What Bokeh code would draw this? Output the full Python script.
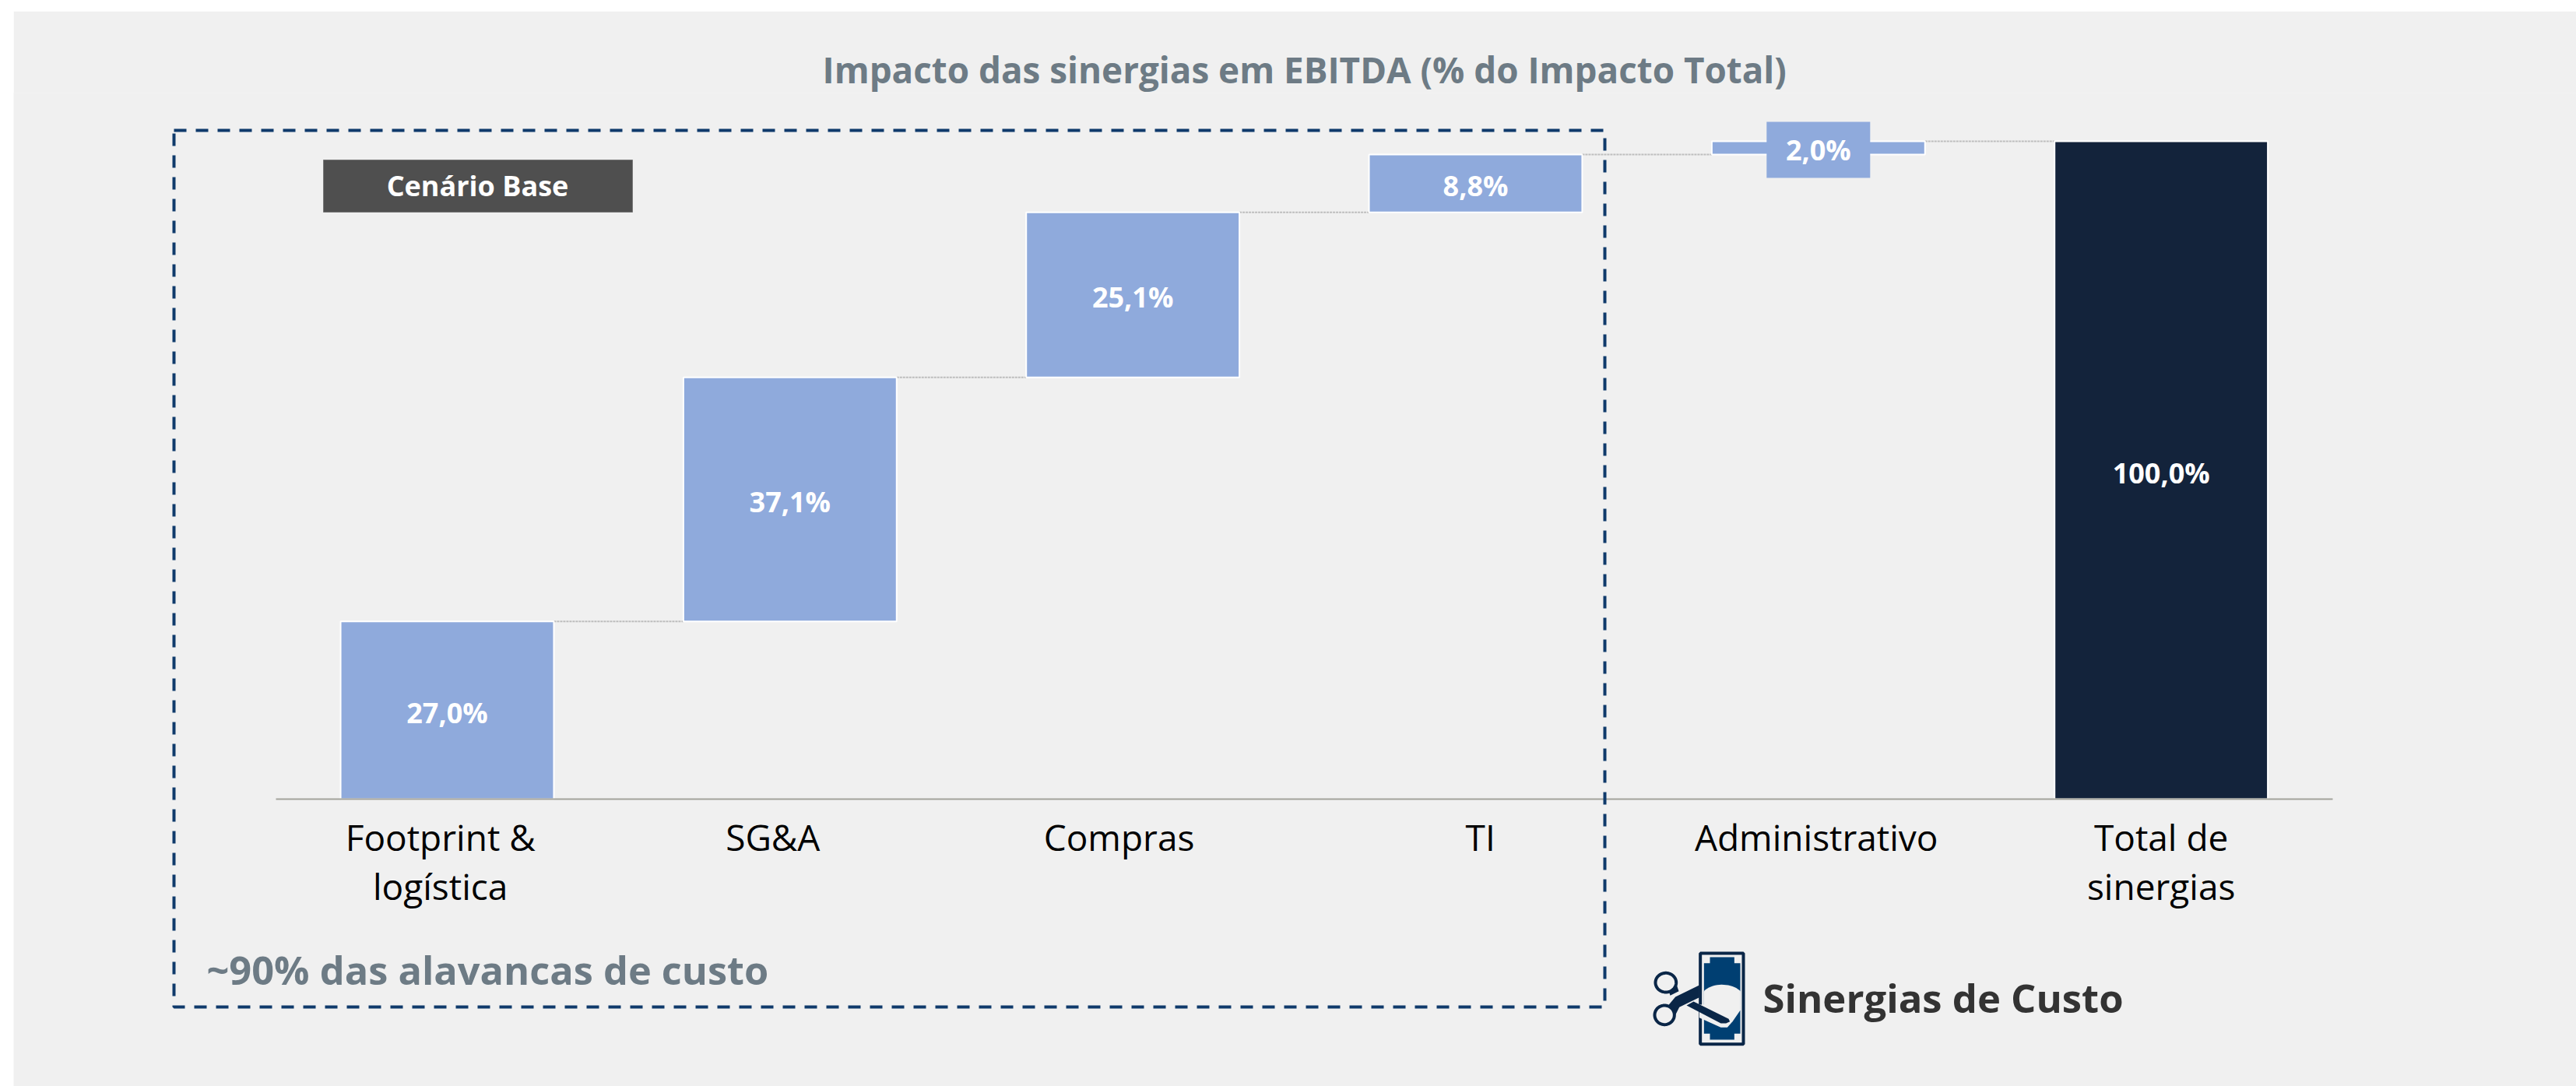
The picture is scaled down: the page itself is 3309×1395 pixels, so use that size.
import numpy as np
from bokeh.plotting import figure
from bokeh.embed import file_html
from bokeh.resources import INLINE
from bokeh.core.properties import value
from bokeh.models import (ColumnDataSource, FixedTicker, Label, BoxAnnotation, PolyAnnotation, Range1d)

# ---- data -----------------------------------------------------------------
categories = ["Footprint &\nlogística", "SG&A", "Compras", "TI", "Administrativo", "Total de\nsinergias"]
increments = [27.0, 37.1, 25.1, 8.8, 2.0]
total = [100.0]
value_labels = ["27,0%", "37,1%", "25,1%", "8,8%", "2,0%", "100,0%"]
chart_title = "Impacto das sinergias em EBITDA (% do Impacto Total)"
scenario_text = "Cenário Base"
note_text = "~90% das alavancas de custo"
brand_text = "Sinergias de Custo"

# ---- styling --------------------------------------------------------------
FONT = "Open Sans"
BLUE, NAVY, GREY_TEXT = "#8faadc", "#13233b", "#6d7b85"
PANEL, DASH = "#f0f0f0", "#0f3a6b"
OX, OY = 17, 14            # where the figure sits in the page
WIN_W, WIN_H = 3309, 1395
label_shift = [-0.02, -0.05, -0.04, 0.014, -0.006, 0.0]   # category labels are hand placed
FRAME_TOP = 119

tops = list(np.cumsum(increments)) + total
bottoms = [t - v for t, v in zip(tops, increments)] + [0.0]
xs = list(range(len(categories)))
colors = [BLUE] * len(increments) + [NAVY]
BAR_W = 0.622

PX_X, PX_Y = 440.33, 8.45   # pixels per category, pixels per percentage point
p = figure(width=WIN_W - OX, height=WIN_H - OY, margin=(OY, 0, 0, OX), output_backend="svg", toolbar_location=None,
           x_range=Range1d((OX - 574) / PX_X, (WIN_W - 574) / PX_X),
           y_range=Range1d((1026 - WIN_H) / PX_Y, (1026 - FRAME_TOP) / PX_Y),
           min_border_left=0, min_border_right=0, min_border_top=FRAME_TOP - OY, min_border_bottom=0,
           background_fill_color=PANEL, border_fill_color=PANEL, outline_line_color=None)
p.grid.visible = False
p.yaxis.visible = False

p.title.text = chart_title
p.title.align = "left"
p.title.offset = 1056 - OX
p.title.text_font = FONT
p.title.text_font_size = "45.8px"
p.title.text_font_style = "bold"
p.title.text_color = GREY_TEXT
p.title.standoff = 0

ax = p.xaxis[0]
ax.fixed_location = 0
ax.bounds = (-0.5, 5.5)
ax.ticker = FixedTicker(ticks=[x + s for x, s in zip(xs, label_shift)])
ax.major_label_overrides = {x + s: c for x, s, c in zip(xs, label_shift, categories)}
ax.major_tick_line_color = None
ax.minor_tick_line_color = None
ax.axis_line_color = "#a3a39b"
ax.axis_line_width = 2
ax.major_label_text_font = FONT
ax.major_label_text_font_size = "46px"
ax.major_label_text_color = "#000000"
ax.major_label_text_line_height = 1.02
ax.major_label_standoff = 11

# connectors
p.segment(x0=[x + BAR_W / 2 for x in xs[:-1]], x1=[x + 1 - BAR_W / 2 for x in xs[:-1]],
          y0=tops[:-1], y1=tops[:-1], line_color="#bdbdbd", line_width=2, line_dash="3 1")
# bars
src = ColumnDataSource(dict(x=xs, top=tops, bottom=bottoms, color=colors))
p.vbar(x="x", top="top", bottom="bottom", width=BAR_W, fill_color="color", line_color="#ffffff", line_width=2, source=src)
# backing box of the small label
p.rect(x=[xs[4]], y=[tops[4] - increments[4] * 0.65], width=133, height=72, width_units="screen", height_units="screen",
       fill_color=BLUE, line_color=None)
# value labels
label_y = [(t + b) / 2 for t, b in zip(tops, bottoms)]
p.text(x=xs, y=label_y, text=value_labels, text_color="#ffffff", text_font=value(FONT), text_font_style="bold",
       text_font_size="36px", text_align="center", text_baseline="middle", y_offset=3)

# annotations in page pixels
def lab(text, x, y, size, color, style="bold", align="left"):
    p.add_layout(Label(x=x - OX, y=y - OY, x_units="canvas", y_units="canvas", text=text, text_font=FONT,
                       text_font_size=size, text_font_style=style, text_color=color, text_align=align,
                       text_baseline="middle"))

def box(l, r, t, b, **kw):
    p.add_layout(BoxAnnotation(left=l - OX, right=r - OX, top=t - OY, bottom=b - OY, left_units="canvas",
                               right_units="canvas", top_units="canvas", bottom_units="canvas", **kw))

box(223, 2061, 167, 1293, fill_color=None, fill_alpha=0, line_color=DASH, line_alpha=1, line_width=4, line_dash="16 12")
box(415, 812, 205, 272, fill_color="#4f4f4f", fill_alpha=1, line_color="#777777", line_alpha=1, line_width=1)
lab(scenario_text, 613, 238, "36px", "#ffffff", align="center")
lab(note_text, 265, 1245, "50.5px", GREY_TEXT)
lab(brand_text, 2264, 1281, "50.8px", "#333333")

# logo: a banknote being cut by scissors
def logo(xs_, ys_, color=None, fill=None, width=3):
    p.add_layout(PolyAnnotation(xs=[2110 + x / 3 - OX for x in xs_], ys=[1210 + y / 3 - OY for y in ys_],
                                xs_units="canvas", ys_units="canvas",
                                fill_color=fill, fill_alpha=1 if fill else 0,
                                line_color=color, line_alpha=1 if color else 0, line_width=width))

LOGO_D, LOGO_B = "#0a2647", "#003f72"
logo([221, 387, 387, 221], [42, 42, 392, 392], color=LOGO_D, width=4)
logo([258, 352, 352, 375, 375, 352, 352, 258, 258, 235, 235, 258],
     [57, 57, 80, 80, 352, 352, 375, 375, 352, 352, 80, 80], fill=LOGO_B)
t = np.linspace(0, 2 * np.pi, 60)
logo(list(np.clip(305 + 82 * np.cos(t), 235, 376)), list(215 + 52 * np.sin(t)), fill=PANEL)
logo([217, 300, 325, 345, 376, 376, 217], [290, 328, 328, 305, 260, 240, 240], fill=PANEL)
logo([168, 195, 330, 335, 320, 300], [243, 228, 295, 305, 312, 312], fill=LOGO_D)
logo([100, 125, 217, 217, 140, 125, 100], [240, 210, 165, 212, 250, 280, 250], fill=LOGO_D)
logo([125, 138, 105, 100], [150, 188, 205, 190], fill=LOGO_D)
for cx, cy, rx, ry in [(88, 155, 40, 37), (83, 280, 38, 37)]:
    logo(list(cx + rx * np.cos(t)), list(cy + ry * np.sin(t)), color=LOGO_D, fill=PANEL, width=4)

open("out.html", "w").write(file_html(p, INLINE))
